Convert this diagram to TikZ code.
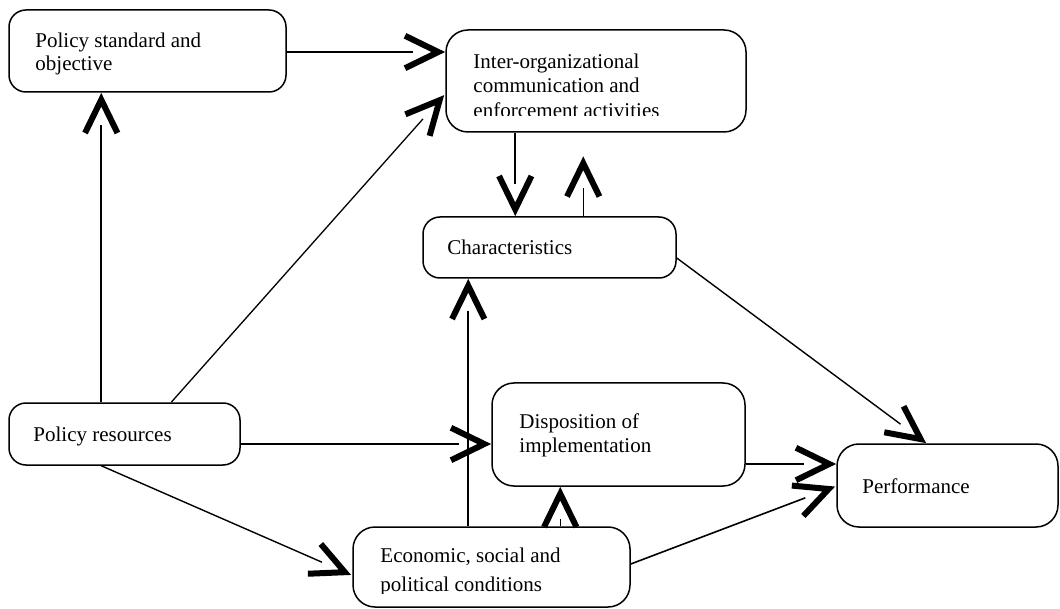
\documentclass[tikz,border=0pt]{standalone}
\usepackage{fontspec}
\setmainfont{Liberation Serif}
\usetikzlibrary{calc}

\tikzset{
  box/.style={draw, line width=1.5pt, rounded corners=#1, inner sep=0pt},
  box/.default=17pt,
  txt/.style={anchor=base west, inner sep=0pt, font=\fontsize{21}{24}\selectfont},
  chev/.style={line width=6pt, line join=miter, line cap=butt},
}

% thin connector that stops short of its tip, plus a heavy open chevron at the tip
% #1 line width, #2 start coordinate, #3 tip coordinate
\newcommand\linkarrow[3]{%
  \draw[line width=#1] #2 -- ($#3!32pt!#2$);
  \coordinate (fj) at ($#3!7pt!#2$);
  \draw[chev] ($(fj)!37pt!26:#2$) -- (fj) -- ($(fj)!37pt!-26:#2$);
}

\newcommand\lines[1]{\begin{tabular}[t]{@{}l@{}}#1\end{tabular}}

\begin{document}
\begin{tikzpicture}[x=1pt,y=-1pt]
\useasboundingbox (0,0) rectangle (1060,609);

% boxes
\node[box, minimum width=277pt, minimum height=82pt]     (ps) at (147.5,51)    {};
\node[box=22pt, minimum width=300pt, minimum height=102pt] (io) at (596,81)    {};
\node[box, minimum width=253pt, minimum height=61pt]     (ch) at (549.5,247.5) {};
\node[box, minimum width=231pt, minimum height=62pt]     (pr) at (124.5,434)   {};
\node[box=22pt, minimum width=253pt, minimum height=103pt] (di) at (618.5,434.5) {};
\node[box=22pt, minimum width=277pt, minimum height=80pt]  (ec) at (491.5,567)  {};
\node[box=22pt, minimum width=221pt, minimum height=83pt]  (pf) at (947.5,485.5) {};

% labels
\node[txt, font=\fontsize{21}{23}\selectfont] (ps-t) at ($(ps.north west)+(27,38)$)
  {\lines{Policy standard and\\objective}};
\begin{scope}
  \clip (io.north west) rectangle ($(io.south east)+(0,-17)$);
  \node[txt, font=\fontsize{21}{24.5}\selectfont] (io-t) at ($(io.north west)+(28,39)$)
    {\lines{Inter-organizational\\communication and\\enforcement activities}};
\end{scope}
\node[txt] (ch-t) at ($(ch.north west)+(25,38)$) {Characteristics};
\node[txt] (pr-t) at ($(pr.north west)+(25,39)$) {Policy resources};
\node[txt] (di-t) at ($(di.north west)+(28,46)$) {\lines{Disposition of\\implementation}};
\begin{scope}
  \clip (ec.north west) rectangle ($(ec.south east)+(0,-14)$);
  \node[txt, font=\fontsize{21}{29}\selectfont] (ec-t) at ($(ec.north west)+(28,36)$)
    {\lines{Economic, social and\\political conditions}};
\end{scope}
\node[txt] (pf-t) at ($(pf.north west)+(26,50)$) {Performance};

% connector end points on the box borders
\coordinate (ps-out)  at ($(ps.east)+(0,1)$);
\coordinate (io-in1)  at (ps-out -| io.west);
\coordinate (pr-up1)  at ($(pr.north west)+(93,0)$);
\coordinate (ps-in)   at (pr-up1 |- ps.south);
\coordinate (pr-up2)  at ($(pr.north west)+(163,0)$);
\coordinate (io-in2)  at ($(io.west)+(-1,14)$);
\coordinate (io-down) at ($(io.south west)+(70,0)$);
\coordinate (ch-in1)  at (io-down |- ch.north);
\coordinate (ch-up)   at ($(ch.north west)+(161,0)$);
\coordinate (ch-up-end) at ($(ch-up)+(0,-60)$);
\coordinate (ec-up1)  at ($(ec.north west)+(116,0)$);
\coordinate (ch-in2)  at (ec-up1 |- ch.south);
\coordinate (pr-right) at ($(pr.east)+(0,10)$);
\coordinate (di-in1)  at (pr-right -| di.west);
\coordinate (pr-down) at ($(pr.south west)+(93,0)$);
\coordinate (ec-in)   at ($(ec.west)+(-1,8)$);
\coordinate (ec-up2)  at ($(ec.north west)+(208,0)$);
\coordinate (di-in2)  at (ec-up2 |- di.south);
\coordinate (di-out)  at ($(di.east)+(0,29.5)$);
\coordinate (pf-in1)  at (di-out -| pf.west);
\coordinate (ec-out)  at ($(ec.east)+(0,-3)$);
\coordinate (pf-in2)  at ($(pf.west)+(-1,1)$);
\coordinate (ch-out)  at ($(ch.east)+(0,10.5)$);
\coordinate (pf-in3)  at ($(pf.north west)+(90,0)$);

% connectors
\linkarrow{2.6pt}{(ps-out)}{(io-in1)}
\linkarrow{1.6pt}{(pr-up1)}{(ps-in)}
\linkarrow{1.3pt}{(pr-up2)}{(io-in2)}
\linkarrow{2pt}{(io-down)}{(ch-in1)}
\linkarrow{1.3pt}{(ch-up)}{(ch-up-end)}
\linkarrow{2pt}{(ec-up1)}{(ch-in2)}
\linkarrow{2.6pt}{(pr-right)}{(di-in1)}
\linkarrow{1.4pt}{(pr-down)}{(ec-in)}
\linkarrow{1.3pt}{(ec-up2)}{(di-in2)}
\linkarrow{2pt}{(di-out)}{(pf-in1)}
\linkarrow{1.6pt}{(ec-out)}{(pf-in2)}
\linkarrow{1.4pt}{(ch-out)}{(pf-in3)}
\end{tikzpicture}
\end{document}
